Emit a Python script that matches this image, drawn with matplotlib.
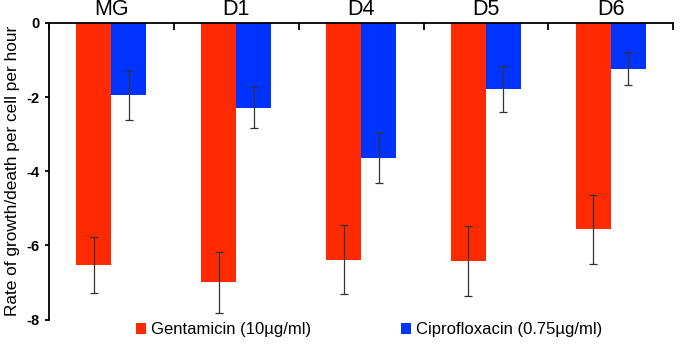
import numpy as np
import matplotlib.pyplot as plt

plt.rcParams['font.family'] = ['Liberation Sans', 'DejaVu Sans']

categories = ["MG", "D1", "D4", "D5", "D6"]
gentamicin = [-6.53, -6.99, -6.38, -6.42, -5.57]
gentamicin_err = [0.76, 0.82, 0.92, 0.95, 0.93]
ciprofloxacin = [-1.95, -2.29, -3.64, -1.77, -1.23]
ciprofloxacin_err = [0.66, 0.55, 0.68, 0.62, 0.45]
series_labels = ["Gentamicin (10\u00b5g/ml)", "Ciprofloxacin (0.75\u00b5g/ml)"]
y_ticks = [0, -2, -4, -6, -8]

fig = plt.figure(figsize=(6.8, 3.47), dpi=100)
ax = fig.add_axes([0.072, 0.079, 0.918, 0.855])

x = np.arange(len(categories))
w = 0.28
err_style = dict(ecolor="#333333", elinewidth=0.9, capsize=3.2, capthick=0.9)
ax.bar(x - w / 2, gentamicin, w, color="#ff2a00", label=series_labels[0],
       yerr=gentamicin_err, error_kw=err_style)
ax.bar(x + w / 2, ciprofloxacin, w, color="#0033ff", label=series_labels[1],
       yerr=ciprofloxacin_err, error_kw=err_style)

ax.set_xlim(-0.5, len(categories) - 0.5)
ax.set_ylim(-8, 0)

# category axis sits at the top, ticks on group boundaries
ax.xaxis.tick_top()
ax.set_xticks(np.arange(len(categories) + 1) - 0.5)
ax.set_xticks(x, minor=True)
ax.set_xticklabels([])
ax.set_xticklabels(categories, minor=True, fontsize=15.5)
ax.tick_params(axis="x", which="major", direction="in", length=5, width=1.3)
ax.tick_params(axis="x", which="minor", length=0, pad=2)

ax.set_yticks(y_ticks)
ax.set_yticklabels([str(t) for t in y_ticks], fontsize=10.5, fontweight="bold")
ax.tick_params(axis="y", direction="out", length=3, width=1.3)
ax.set_ylabel("Rate of growth/death per cell per hour", fontsize=12.4, labelpad=5)

for s in ["right", "bottom"]:
    ax.spines[s].set_visible(False)
for s in ["left", "top"]:
    ax.spines[s].set_linewidth(1.3)

fig.legend(loc="lower center", bbox_to_anchor=(0.543, -0.015), ncol=2, frameon=False,
           fontsize=12.0, handlelength=0.6, handleheight=0.6, handletextpad=0.3,
           columnspacing=5.4)

fig.savefig("out.png", dpi=100)
